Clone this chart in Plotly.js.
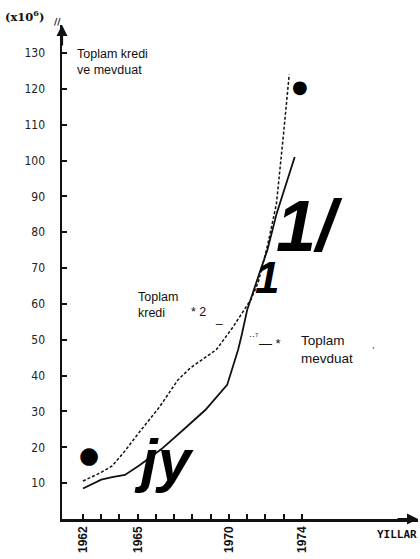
<!DOCTYPE html>
<html>
<head>
<meta charset="utf-8">
<script src="https://cdn.plot.ly/plotly-3.0.1.min.js"></script>
<style>
  html, body { margin: 0; padding: 0; background: #fff; }
  #chart { width: 420px; height: 559px; }
</style>
</head>
<body>
<div id="chart"></div>
<script>
// ---- data (values in 10^6) ----
const krediYears = [1962, 1963, 1963.6, 1964.3, 1965.1, 1966.2, 1967.2, 1967.9, 1969.3, 1970.2, 1971.2, 1971.6, 1972.1, 1972.6, 1973.0, 1973.3];
const krediValues = [10.6, 13, 14.8, 19, 24.3, 31.3, 38.8, 42.2, 47.2, 53.4, 61.2, 66, 76, 88, 108, 124];

const mevduatYears = [1962, 1963, 1963.6, 1964.3, 1965.1, 1966.3, 1967.5, 1968.7, 1969.9, 1970.5, 1970.7, 1971.0, 1971.5, 1972.1, 1972.6, 1973.2, 1973.6];
const mevduatValues = [8.5, 11, 11.7, 12.3, 15, 19.5, 24.9, 30.4, 37.4, 47.2, 51.4, 58.4, 66, 75, 85, 95, 101];

const xTickYears = [1962, 1963, 1964, 1965, 1966, 1967, 1968, 1969, 1970, 1971, 1972, 1973, 1974];
const xTickLabels = ['1962', '', '', '1965', '', '', '', '', '1970', '', '', '', '1974'];
const yTickValues = [10, 20, 30, 40, 50, 60, 70, 80, 90, 100, 110, 120, 130];

// ---- layout helpers (page pixel -> paper coords) ----
const L = 62, T = 25, R = 2, B = 40, W = 420, H = 559;
const PW = W - L - R, PH = H - T - B;
const px = x => (x - L) / PW;
const py = y => (H - B - y) / PH;

const lab = "Liberation Sans, Arial, sans-serif";
const narrow = "DejaVu Sans Condensed, Liberation Sans Narrow, Roboto Condensed, sans-serif";

const traces = [
  {
    x: krediYears, y: krediValues, type: 'scatter', mode: 'lines',
    name: 'Toplam kredi',
    line: { color: '#111', width: 1.5, dash: '3px,2px' },
    hoverinfo: 'skip'
  },
  {
    x: mevduatYears, y: mevduatValues, type: 'scatter', mode: 'lines',
    name: 'Toplam mevduat',
    line: { color: '#111', width: 1.8 },
    hoverinfo: 'skip'
  }
];

function txt(x, y, text, size, opts) {
  return Object.assign({
    xref: 'paper', yref: 'paper', x: px(x), y: py(y),
    text: text, showarrow: false, xanchor: 'left', yanchor: 'middle',
    align: 'left',
    font: { family: lab, size: size, color: '#111' }
  }, opts || {});
}

const annotations = [
  // axis arrows
  { xref: 'paper', yref: 'paper', x: 0, y: 1, ax: 0, ay: 22, axref: 'pixel', ayref: 'pixel',
    text: '', showarrow: true, arrowhead: 2, arrowsize: 1, arrowwidth: 2.2, arrowcolor: '#111' },
  { xref: 'paper', yref: 'paper', x: px(418), y: 0, ax: -22, ay: 0,
    text: '', showarrow: true, arrowhead: 2, arrowsize: 1, arrowwidth: 2.2, arrowcolor: '#111' },
  // unit label
  txt(3, 16, '(x10<sup>6</sup>)', 11.5, { font: { family: 'DejaVu Serif, serif', size: 11.5, color: '#111', weight: 'bold' } }),
  txt(52, 22, '//', 9, { font: { family: 'DejaVu Serif, serif', size: 9, color: '#111', weight: 'bold' } }),
  // axis title
  txt(75, 62, 'Toplam kredi<br>ve mevduat', 12.5, { font: { family: lab, size: 12.5, color: '#111' } }),
  // series labels
  txt(136, 305, 'Toplam<br>kredi', 12.5),
  txt(189, 312, '* 2', 12.5),
  txt(213, 318, '_', 12),
  txt(247, 336, '··⁷', 9),
  txt(257, 343, '— *', 13),
  txt(299, 349, 'Toplam<br>mevduat', 13.5),
  txt(370, 345, ',', 9),
  // x-axis name
  txt(375, 534, 'YILLAR', 11, { font: { family: 'DejaVu Sans Mono, monospace', size: 11, color: '#111', weight: 'bold' } }),
  // scanning artefacts present in the reference
  txt(77, 455, '●', 23, { font: { family: 'DejaVu Sans, sans-serif', size: 23, color: '#000' } }),
  txt(290, 86, '●', 18, { font: { family: 'DejaVu Sans, sans-serif', size: 18, color: '#000' } }),
  txt(132, 460, 'jy', 60, { font: { family: 'Liberation Sans, Arial, sans-serif', size: 60, color: '#000', weight: 'bold', style: 'italic' } }),
  txt(274, 226, '1/', 72, { font: { family: 'Liberation Sans, Arial, sans-serif', size: 72, color: '#000', weight: 'bold', style: 'italic' } }),
  txt(253, 277, '1', 44, { font: { family: 'Liberation Sans, Arial, sans-serif', size: 44, color: '#000', weight: 'bold', style: 'italic' } })
];

const layout = {
  width: W, height: H,
  margin: { l: L, r: R, t: T, b: B, pad: 0 },
  paper_bgcolor: '#fff', plot_bgcolor: '#fff',
  showlegend: false,
  xaxis: {
    range: [1960.85, 1962 + (W - R - 83) / 18.25],
    tickmode: 'array', tickvals: xTickYears, ticktext: xTickLabels,
    ticks: 'inside', ticklen: 5, tickwidth: 2, tickcolor: '#111',
    tickangle: -90,
    tickfont: { family: lab, size: 12, color: '#111', weight: 'bold' },
    showline: true, linecolor: '#111', linewidth: 2.5,
    showgrid: false, zeroline: false, fixedrange: true
  },
  yaxis: {
    range: [0, (H - B - T) / 3.585],
    tickmode: 'array', tickvals: yTickValues,
    ticks: 'inside', ticklen: 5, tickwidth: 2, tickcolor: '#111',
    ticklabelstandoff: 12,
    tickfont: { family: narrow, size: 12, color: '#222' },
    showline: true, linecolor: '#111', linewidth: 2.5,
    showgrid: false, zeroline: false, fixedrange: true
  },
  annotations: annotations
};

Plotly.newPlot('chart', traces, layout, { displayModeBar: false, staticPlot: true });
</script>
</body>
</html>
